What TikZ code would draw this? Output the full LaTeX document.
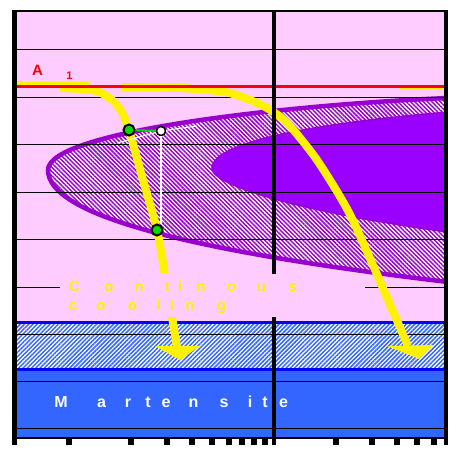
\documentclass[tikz,border=0pt]{standalone}
\usepackage{fontspec}
\setmainfont{Liberation Sans}
\usepackage{tikz}
\usetikzlibrary{patterns.meta,calc}

\definecolor{bgpink}{RGB}{255,204,255}
\definecolor{bandpurple}{RGB}{153,0,204}
\definecolor{corepurple}{RGB}{153,0,255}
\definecolor{martblue}{RGB}{51,102,255}
\definecolor{lineblue}{RGB}{0,0,255}
\definecolor{dotgreen}{RGB}{0,220,0}

\begin{document}
\begin{tikzpicture}[
  x=1pt, y=-1pt,
  grid/.style={black, line width=1pt},
  cooling/.style={yellow, line width=8pt},
  gdot/.style={circle, draw=black, line width=2pt, fill=dotgreen, minimum size=11pt, inner sep=0pt},
  wdot/.style={circle, draw=black, line width=1.5pt, fill=white, minimum size=9pt, inner sep=0pt},
  letter/.style={anchor=base, inner sep=0pt, font=\fontsize{15}{15}\selectfont\bfseries}
]
\useasboundingbox (0,0) rectangle (461,459);
\fill[white] (0,0) rectangle (461,459);

\begin{scope}
\clip (17,12) rectangle (444,437);
\fill[bgpink] (17,12) rectangle (444,437);
% pearlite nose
\path[preaction={fill=white}, pattern={Lines[angle=-45,distance=3pt,line width=1.5pt]}, pattern color=bandpurple,
      postaction={draw=bandpurple, line width=4.5pt}]
  (448,98) .. controls (300,104) and (48,130) .. (48,170)
  .. controls (48,214) and (180,250) .. (448,282) -- cycle;
\fill[corepurple, draw=bandpurple, line width=1.5pt]
  (448,112) .. controls (330,122) and (213,140) .. (212,168)
  .. controls (211,185) and (300,212) .. (448,232) -- cycle;
% martensite bands
\fill[white] (17,322) rectangle (444,370);
\fill[pattern={Lines[angle=45,distance=3pt,line width=1.5pt]}, pattern color=martblue] (17,322) rectangle (444,370);
\fill[martblue] (17,370) rectangle (444,437);
\draw[lineblue, line width=3pt] (17,322) -- (444,322);
\draw[lineblue, line width=3pt] (17,369.5) -- (444,369.5);
\foreach \gy in {49,97,144,192,239,287,334,381,428}
  \draw[grid] (17,\gy) -- (444,\gy);
% cooling curves
\draw[cooling, line width=3pt] (17,83) -- (90,83);
\draw[cooling, line width=3pt] (400,88.5) -- (444,88.5);
\draw[cooling] plot[smooth] coordinates {(60,88) (92,90) (108,97) (120,109) (129,130) (143,180) (157,230) (165,275) (172,317) (177,347)};
\draw[cooling] plot[smooth] coordinates {(122,87) (180,88) (225,92) (255,102) (275,113) (290,126) (317,160) (346,207) (365,247) (408,346)};
\fill[yellow] (155,346) -- (200,346) -- (180,360) -- cycle;
\fill[yellow] (387,346) -- (434,345) -- (419,359) -- cycle;
\draw[red, line width=3pt] (17,86) -- (444,86);
% start / finish points
\node[gdot] (g1) at (129,130) {};
\node[wdot] (w1) at (161,131) {};
\node[gdot] (g2) at (157,230) {};
\coordinate (t1) at (117,143);
\coordinate (t2) at (197,126);
\draw[white, line width=1pt] (t1) -- (w1) -- (t2);
\draw[white, line width=1.5pt] (w1) -- (w1 |- g2.north);
\draw[dotgreen, line width=2pt] (g1) -- (w1);
\end{scope}

\fill[black] (272,10) rectangle (276,445);
\fill[bgpink] (60,274) rectangle (365,317);

% labels
\node[letter, red] (a) at (37.5,75) {A};
\node[letter, red, font=\fontsize{11}{11}\selectfont\bfseries] (a1) at (69.5,79) {1};
\foreach \ch/\x [count=\i] in {C/74.5, o/109, n/139.5, t/167.5, i/180, n/201, o/231.5, u/261.5, s/292.5}
  \node[letter, yellow] (cont\i) at (\x,291) {\ch};
\foreach \ch/\x [count=\i] in {c/73, o/101, o/132.5, l/159, i/172, n/190, g/221.5}
  \node[letter, yellow] (cool\i) at (\x,310) {\ch};
\foreach \ch/\x [count=\i] in {M/61, a/101.5, r/128, t/148, e/166, n/193.5, s/224, i/250, t/265, e/283.5}
  \node[letter, white, font=\fontsize{16}{16}\selectfont\bfseries] (mart\i) at (\x,407) {\ch};

% frame and log ticks
\fill[black] (12,10) rectangle (448,12);
\fill[black] (12,10) rectangle (17,445);
\fill[black] (444,10) rectangle (448,445);
\fill[black] (12,437) rectangle (448,439);
\foreach \k in {1,...,9} {
  \pgfmathsetmacro\tx{69+205*log10(\k)}
  \fill[black] (\tx-3,439) rectangle (\tx+3,445);
}
\foreach \k in {2,...,6} {
  \pgfmathsetmacro\tx{274+205*log10(\k)}
  \fill[black] (\tx-3,439) rectangle (\tx+3,445);
}
\end{tikzpicture}
\end{document}
